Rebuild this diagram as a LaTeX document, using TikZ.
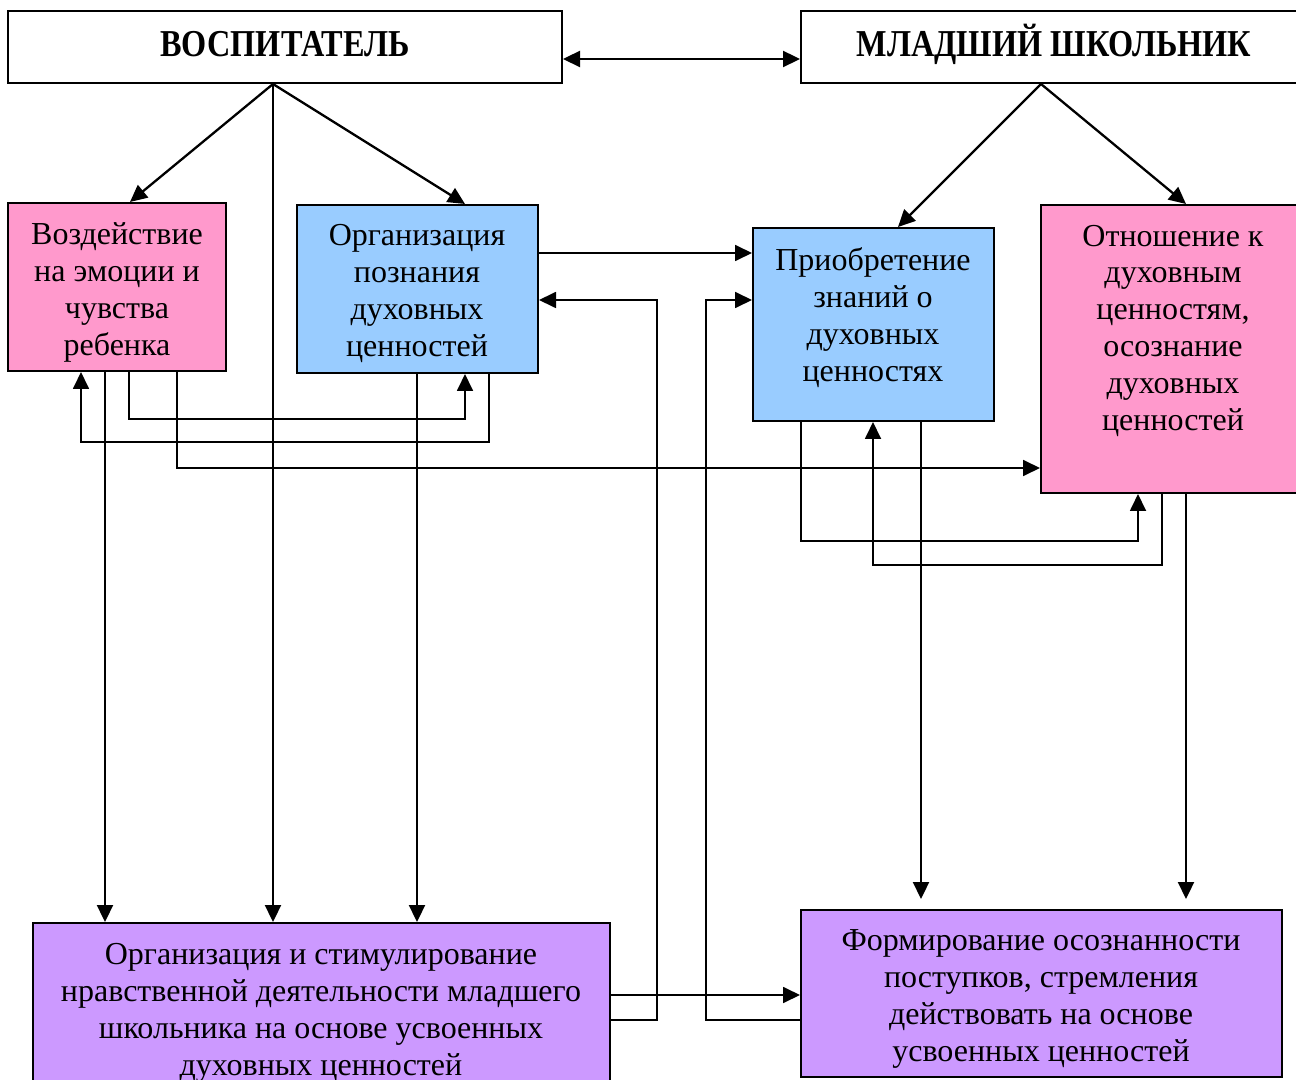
\documentclass[tikz,border=0pt]{standalone}
\usepackage{fontspec}
\setmainfont{Liberation Serif}
\usepackage{graphicx}
\usetikzlibrary{arrows.meta,fit}
\definecolor{pinkbox}{HTML}{FF99CC}
\definecolor{bluebox}{HTML}{99CCFF}
\definecolor{purplebox}{HTML}{CC99FF}
\begin{document}
\begin{tikzpicture}[x=0.5pt,y=-0.5pt,
  box/.style={draw=black,line width=1pt,inner sep=0pt},
  txt/.style={align=center,inner sep=0pt,font=\fontsize{16}{18.5}\selectfont},
  ttl/.style={inner sep=0pt,font=\fontsize{19}{22}\selectfont\bfseries},
  main/.style={line width=1.15pt,-{Triangle[length=8.5pt,width=8pt]}},
  dbl/.style={line width=1.15pt,{Triangle[length=8.5pt,width=8pt]}-{Triangle[length=8.5pt,width=8pt]}},
  thin/.style={line width=0.9pt,-{Triangle[length=8.5pt,width=8pt]}}]
\useasboundingbox (0,0) rectangle (1296,1080);
\clip (0,0) rectangle (1296,1080);
\fill[white] (0,0) rectangle (1296,1080);
% column / row helpers
\foreach \c in {81,105,129,130,177,273,417,465,489,657,706,801,873,898,921,1138,1162,1186}
  \coordinate (X\c) at (\c,0);
\foreach \r in {59,253,300,419,442,468,541,565,995,1020}
  \coordinate (Y\r) at (0,\r);
% boxes
\node[box,fill=white,fit={(8,11)(562,83)}] (vosp) {};
\node[box,fill=white,fit={(801,11)(1302,83)}] (mlad) {};
\node[box,fill=pinkbox,fit={(8,203)(226,371)}] (vozd) {};
\node[box,fill=bluebox,fit={(297,205)(538,373)}] (orgp) {};
\node[box,fill=bluebox,fit={(753,228)(994,421)}] (prio) {};
\node[box,fill=pinkbox,fit={(1041,205)(1306,493)}] (otn) {};
\node[box,fill=purplebox,fit={(33,923)(610,1100)}] (botl) {};
\node[box,fill=purplebox,fit={(801,910)(1282,1077)}] (botr) {};
% texts
\node[ttl] (tvosp) at (285,44) {\scalebox{0.85}[1]{ВОСПИТАТЕЛЬ}};
\node[ttl] (tmlad) at (1054,44) {\scalebox{0.85}[1]{МЛАДШИЙ ШКОЛЬНИК}};
\node[txt] (tvozd) at (117,292) {Воздействие\\на эмоции и\\чувства\\ребенка};
\node[txt] (torgp) at (417,294) {Организация\\познания\\духовных\\ценностей};
\node[txt] (tprio) at (873,318) {Приобретение\\знаний о\\духовных\\ценностях};
\node[txt] (totn) at (1173,331) {Отношение к\\духовным\\ценностям,\\осознание\\духовных\\ценностей};
\node[txt] (tbotl) at (321,1013) {Организация и стимулирование\\нравственной деятельности младшего\\школьника на основе усвоенных\\духовных ценностей};
\node[txt] (tbotr) at (1041,999) {Формирование осознанности\\поступков, стремления\\действовать на основе\\усвоенных ценностей};
% top double arrow
\draw[dbl] (vosp.east |- Y59) -- (mlad.west |- Y59);
% from ВОСПИТАТЕЛЬ
\draw[main] (vosp.south -| X273) -- (vozd.north -| X130);
\draw[main] (vosp.south -| X273) -- (botl.north -| X273);
\draw[main] (vosp.south -| X273) -- (orgp.north -| X465);
% from МЛАДШИЙ ШКОЛЬНИК
\coordinate (apex) at (1041,83);
\draw[main] (mlad.south -| apex) -- (prio.north -| X898);
\draw[main] (mlad.south -| apex) -- (otn.north -| X1186);
% verticals to bottom boxes
\draw[main] (vozd.south -| X105) -- (botl.north -| X105);
\draw[main] (orgp.south -| X417) -- (botl.north -| X417);
\draw[main,shorten >=5pt] (prio.south -| X921) -- (botr.north -| X921);
\draw[main,shorten >=5pt] (otn.south -| X1186) -- (botr.north -| X1186);
% horizontal links
\draw[thin] (orgp.east |- Y253) -- (prio.west |- Y253);
\draw[thin] (botl.east |- Y995) -- (botr.west |- Y995);
\draw[thin] (botl.east |- Y1020) -| (X657 |- Y300) -- (orgp.east |- Y300);
\draw[thin] (botr.west |- Y1020) -| (X706 |- Y300) -- (prio.west |- Y300);
% elbow links, left
\draw[thin] (vozd.south -| X129) |- (X465 |- Y419) -- (orgp.south -| X465);
\draw[thin] (orgp.south -| X489) |- (X81 |- Y442) -- (vozd.south -| X81);
\draw[thin] (vozd.south -| X177) |- (otn.west |- Y468);
% elbow links, right
\draw[thin] (prio.south -| X801) |- (X1138 |- Y541) -- (otn.south -| X1138);
\draw[thin] (otn.south -| X1162) |- (X873 |- Y565) -- (prio.south -| X873);
\end{tikzpicture}
\end{document}
